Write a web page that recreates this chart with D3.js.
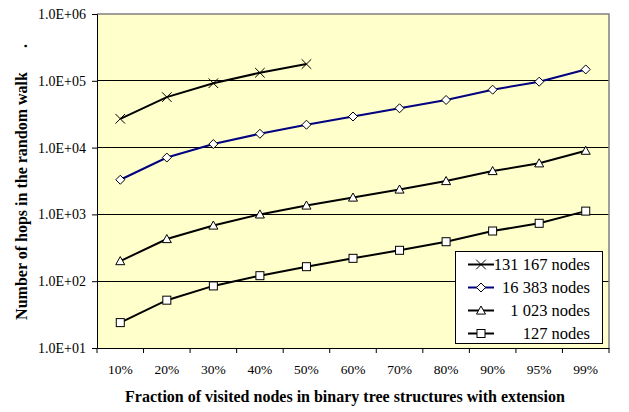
<!DOCTYPE html>
<html><head><meta charset="utf-8">
<script src="https://cdn.jsdelivr.net/npm/d3@7"></script>
<style>body{margin:0;background:#fff}svg{display:block}svg text{font-family:'Liberation Serif','Times New Roman',Times,serif !important}</style>
</head><body><svg id="c" width="629" height="412"></svg>
<script>
const categories = ["10%","20%","30%","40%","50%","60%","70%","80%","90%","95%","99%"];
const seriesNames = ["131 167 nodes","16 383 nodes","1 023 nodes","127 nodes"];
const s131167 = [27000,57000,92000,132000,178000];
const s16383 = [3300,7100,11300,16100,22000,29200,38800,51600,73600,97000,148000];
const s1023 = [200,428,682,1000,1360,1790,2360,3160,4460,5820,8990];
const s127 = [24,52,85,121,165,220,290,390,564,736,1120];
const yTicks = [1e1,1e2,1e3,1e4,1e5,1e6];
const yTickLabels = ["1.0E+01","1.0E+02","1.0E+03","1.0E+04","1.0E+05","1.0E+06"];
const markers = ["x","diamond","triangle","square"];
const colors = ["#000","#000080","#000","#000"];

const svg = d3.select("#c");
const L=97,R=609,T=14,B=348;
const x = d3.scaleBand().domain(categories).range([L,R]);
const y = d3.scaleLog().domain([10,1e6]).range([B,T]);

svg.append("rect").attr("x",L).attr("y",T).attr("width",R-L).attr("height",B-T).attr("fill","#FFFFCC");
svg.append("g").selectAll("line").data(yTicks.slice(1,5)).join("line")
  .attr("x1",L).attr("x2",R).attr("y1",d=>y(d)).attr("y2",d=>y(d)).attr("stroke","#000").attr("stroke-width",1).attr("shape-rendering","crispEdges");
svg.append("path").attr("d",`M${L},${T}H${R}V${B}`).attr("fill","none").attr("stroke","#808080").attr("stroke-width",1.5);

const yAxis = d3.axisLeft(y).tickValues(yTicks).tickFormat((d,i)=>yTickLabels[i]).tickSize(5).tickPadding(6);
const gy = svg.append("g").attr("transform",`translate(${L},0)`).call(yAxis).attr("font-family",null);
gy.select(".domain").attr("stroke","#000");
gy.selectAll("text").attr("font-size",14).attr("fill","#000");
gy.selectAll(".tick line").attr("stroke","#000");

const xAxis = d3.axisBottom(x).tickSize(0).tickPadding(16);
const gx = svg.append("g").attr("transform",`translate(0,${B})`).call(xAxis).attr("font-family",null);
gx.select(".domain").attr("stroke","#000");
gx.selectAll("text").attr("font-size",13.5).attr("fill","#000");
const bounds = categories.map(c=>x(c)).concat([R]);
gx.selectAll(".bt").data(bounds).join("line").attr("class","bt")
  .attr("x1",d=>d).attr("x2",d=>d).attr("y1",0).attr("y2",5).attr("stroke","#000");

function marker(g, type, cx, cy){
  if(type==="x"){
    const s=4.8;
    g.append("path").attr("d",`M${cx-s},${cy-s}L${cx+s},${cy+s}M${cx-s},${cy+s}L${cx+s},${cy-s}`).attr("stroke","#000").attr("stroke-width",1);
  } else if(type==="diamond"){
    const s=4.5;
    g.append("path").attr("d",`M${cx},${cy-s}L${cx+s},${cy}L${cx},${cy+s}L${cx-s},${cy}Z`).attr("fill","#fff").attr("stroke","#000").attr("stroke-width",1);
  } else if(type==="triangle"){
    const s=4.5;
    g.append("path").attr("d",`M${cx},${cy-s}L${cx+s},${cy+s*0.8}L${cx-s},${cy+s*0.8}Z`).attr("fill","#fff").attr("stroke","#000").attr("stroke-width",1);
  } else {
    const s=4;
    g.append("rect").attr("x",cx-s).attr("y",cy-s).attr("width",2*s).attr("height",2*s).attr("fill","#fff").attr("stroke","#000").attr("stroke-width",1);
  }
}

const allSeries = [s131167,s16383,s1023,s127];
const line = d3.line().x((d,i)=>x(categories[i])+x.bandwidth()/2).y(d=>y(d));
allSeries.forEach((vals,k)=>{
  const g = svg.append("g");
  g.append("path").datum(vals).attr("d",line).attr("fill","none").attr("stroke",colors[k]).attr("stroke-width",2);
  vals.forEach((v,i)=>marker(g,markers[k],x(categories[i])+x.bandwidth()/2,y(v)));
});

const lg = svg.append("g");
lg.append("rect").attr("x",455.5).attr("y",251.5).attr("width",147).attr("height",92).attr("fill","#fff").attr("stroke","#000").attr("stroke-width",1);
seriesNames.forEach((n,k)=>{
  const yy = 264.5 + k*23;
  lg.append("line").attr("x1",468).attr("x2",494).attr("y1",yy).attr("y2",yy).attr("stroke",colors[k]).attr("stroke-width",2);
  marker(lg,markers[k],481,yy);
  lg.append("text").attr("x",590).attr("y",yy+5.5).attr("text-anchor","end").attr("font-size",16.5).text(n);
});

svg.append("text").attr("x",345).attr("y",402).attr("text-anchor","middle").attr("font-weight","bold").attr("font-size",16).text("Fraction of visited nodes in binary tree structures with extension");
svg.append("text").attr("transform","translate(27,196) rotate(-90)").attr("text-anchor","middle").attr("font-weight","bold").attr("font-size",16).text("Number of hops in the random walk");
svg.append("text").attr("transform","translate(27,46) rotate(-90)").attr("text-anchor","middle").attr("font-weight","bold").attr("font-size",16).text(".");
</script></body></html>
